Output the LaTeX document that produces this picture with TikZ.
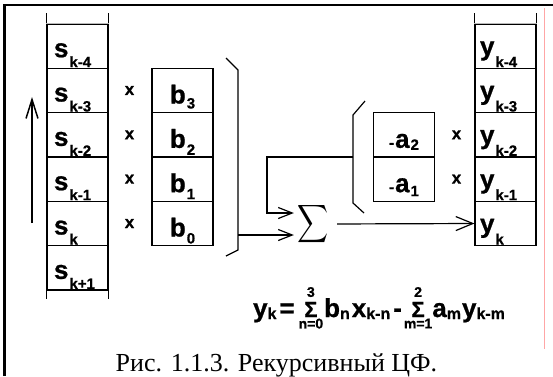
\documentclass[tikz,border=0pt]{standalone}
\usepackage{fontspec}
\setmainfont{Liberation Serif}
\setsansfont{Liberation Sans}[BoldFeatures={FakeBold=0.8}]
\usetikzlibrary{arrows.meta}

\newcommand{\cellsub}[3][10pt]{#2\kern1pt\raisebox{-#1}{\fontsize{15}{15}\selectfont #3}}
\newcommand{\lowsub}[1]{\raisebox{-2pt}{\fontsize{16}{16}\selectfont #1}}
\newcommand{\sumlim}[2]{$\mathop{\hbox{\fontsize{22}{22}\selectfont Σ}}\limits^{\hbox{\raisebox{3pt}{\fontsize{14}{14}\selectfont #1}}}_{\hbox{\raisebox{-3pt}{\fontsize{14}{14}\selectfont #2}}}$}

\tikzset{
  cell/.style={draw, minimum width=61pt, minimum height=44.33pt, inner ysep=1pt, text depth=0pt,
    font=\sffamily\bfseries\fontsize{26}{26}\selectfont},
  sreg/.style={cell, inner xsep=7pt, text width=47pt, align=left, text height=22pt},
  yreg/.style={cell, inner xsep=5pt, text width=51pt, align=left, text height=18pt},
  breg/.style={cell, inner xsep=2pt, text height=26pt},
  areg/.style={cell, inner xsep=2pt, text height=26pt},
  mul/.style={font=\sffamily\bfseries\fontsize{17}{17}\selectfont},
  feed/.style={-{Straight Barb[length=14pt,width=11pt]}, shorten >=3pt},
  outarrow/.style={-{Straight Barb[length=17pt,width=14pt]}},
  shiftarrow/.style={line width=1.5pt, -{Straight Barb[length=19pt,width=12pt]}}
}

\begin{document}
\begin{tikzpicture}[x=1pt, y=-1pt, line width=1.2pt]
  \useasboundingbox (0,0) rectangle (553,376);
  \draw[line width=2.5pt] (4.5,376) -- (4.5,5) -- (553,5);
  \draw[red!35, line width=1pt] (544,8) -- (544,349);

  \node[sreg] (sk4) at (77.5,46.17) {\cellsub{s}{k-4}};
  \node[sreg] (sk3) at (77.5,90.5) {\cellsub{s}{k-3}};
  \node[sreg] (sk2) at (77.5,134.83) {\cellsub{s}{k-2}};
  \node[sreg] (sk1) at (77.5,179.17) {\cellsub{s}{k-1}};
  \node[sreg] (sk) at (77.5,223.5) {\cellsub{s}{k}};
  \node[sreg] (skp) at (77.5,267.83) {\cellsub{s}{k+1}};
  \draw[gray!55] (sk4.north west) -- (sk4.north east);
  \draw (sk4.north west) -- ++(0,-10) (sk4.north east) -- ++(0,-10);
  \draw (skp.south west) -- ++(0,8) (skp.south east) -- ++(0,8);

  \coordinate (shiftlo) at (32,223);
  \coordinate (shifthi) at (32,97);
  \draw[shiftarrow] (shiftlo) -- (shifthi);

  \node[mul] (mb3) at (129.5,90.5) {x};
  \node[mul] (mb2) at (129.5,134.83) {x};
  \node[mul] (mb1) at (129.5,179.17) {x};
  \node[mul] (mb0) at (129.5,223.5) {x};

  \node[breg] (b3) at (182.5,90.5) {\cellsub[5pt]{b}{3}};
  \node[breg] (b2) at (182.5,134.83) {\cellsub[7pt]{b}{2}};
  \node[breg] (b1) at (182.5,179.17) {\cellsub[7pt]{b}{1}};
  \node[breg] (b0) at (182.5,223.5) {\cellsub[7pt]{b}{0}};

  \draw (226,58) -- (238,70) -- (238,250) -- (226,256);
  \coordinate (bsum) at (238,235);

  \node[inner sep=0pt] (sum) at (313,224) {\scalebox{2.15}[2.65]{$\displaystyle\sum$}};
  \draw[feed] (bsum) -- (bsum -| sum.west);

  \node[areg] (a2) at (404,134.83) {{\fontsize{15}{15}\selectfont -}\kern1pt\cellsub[2pt]{a}{2}};
  \node[areg] (a1) at (404,179.17) {{\fontsize{15}{15}\selectfont -}\kern1pt\cellsub[4pt]{a}{1}};
  \node[mul] (ma2) at (456.5,134.83) {x};
  \node[mul] (ma1) at (456.5,179.17) {x};

  \draw (365,101) -- (353,115) -- (353,203) -- (364,213);
  \coordinate (asum) at (353,157);
  \draw[feed] (asum) -- (267,157) |- ([yshift=11pt]sum.west);

  \node[yreg] (yk4) at (505.5,46.17) {\cellsub[12pt]{y}{k-4}};
  \node[yreg] (yk3) at (505.5,90.5) {\cellsub[12pt]{y}{k-3}};
  \node[yreg] (yk2) at (505.5,134.83) {\cellsub[12pt]{y}{k-2}};
  \node[yreg] (yk1) at (505.5,179.17) {\cellsub[12pt]{y}{k-1}};
  \node[yreg] (yk) at (505.5,223.5) {\cellsub[12pt]{y}{k}};
  \draw[gray!55] (yk4.north west) -- (yk4.north east);
  \draw (yk4.north west) -- ++(0,-10) (yk4.north east) -- ++(0,-10);

  \draw[outarrow, shorten <=8pt] (sum.east) -- (yk.west);

  \node[anchor=base, inner sep=0pt, font=\sffamily\bfseries\fontsize{26}{26}\selectfont] (eq) at (379,317)
    {y\lowsub{k}\kern3pt=\kern4pt\sumlim{3}{n=0}\kern1pt b\lowsub{n}\kern2pt x\lowsub{k-n}\kern3pt-\kern2pt\sumlim{2}{m=1}a\lowsub{m}\kern1pt y\lowsub{k-m}};

  \node[anchor=base, font=\fontsize{26}{26}\selectfont] (cap) at (276.5,371) {Рис. 1.1.3. Рекурсивный ЦФ.};
\end{tikzpicture}
\end{document}
